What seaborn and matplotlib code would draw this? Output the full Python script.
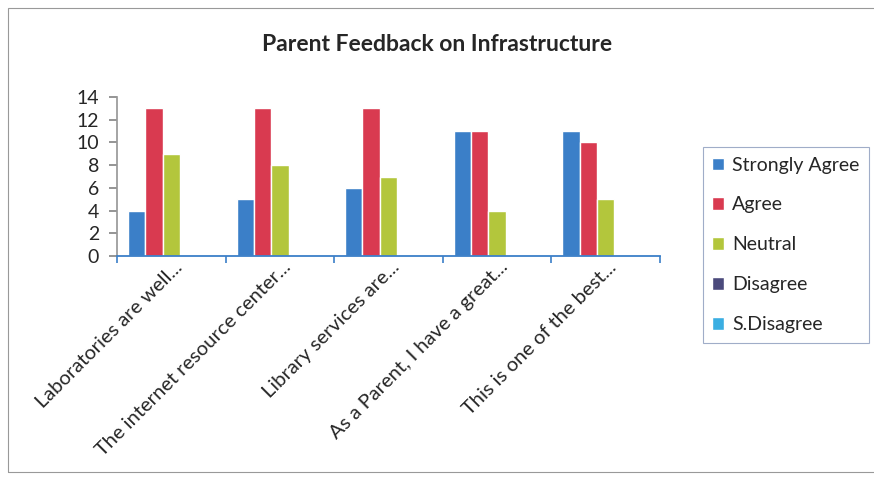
import matplotlib
matplotlib.use("Agg")
import matplotlib.pyplot as plt
import matplotlib.patches as mpatches
import matplotlib.transforms as mtransforms
import pandas as pd
import seaborn as sns

# data
statements = ["Laboratories are well...", "The internet resource center...",
              "Library services are...", "As a Parent, I have a great...",
              "This is one of the best..."]
responses = ["Strongly Agree", "Agree", "Neutral", "Disagree", "S.Disagree"]
strongly_agree = [4, 5, 6, 11, 11]
agree = [13, 13, 13, 11, 10]
neutral = [9, 8, 7, 4, 5]
disagree = [0, 0, 0, 0, 0]
s_disagree = [0, 0, 0, 0, 0]

colors = ["#3b7fc8", "#d93a50", "#b3c63c", "#4b4a7c", "#3aaee2"]

sns.set_theme(style="white")
plt.rcParams["font.family"] = ["Lato", "DejaVu Sans"]

rows = []
for resp, vals in zip(responses, [strongly_agree, agree, neutral, disagree, s_disagree]):
    for s, v in zip(statements, vals):
        rows.append({"statement": s, "response": resp, "count": v})
df = pd.DataFrame(rows)

fig = plt.figure(figsize=(8.74, 4.83), dpi=100)
ax = fig.add_axes([0.134, 0.470, 0.621, 0.329])
sns.barplot(data=df, x="statement", y="count", hue="response", order=statements,
            hue_order=responses, palette=colors, width=0.8, saturation=1,
            ax=ax, legend=False)

ax.set_xlim(-0.5, 4.5)
ax.set_ylim(0, 14)
ax.set_yticks(range(0, 15, 2))
ax.set_xlabel("")
ax.set_ylabel("")
ax.tick_params(axis="y", labelsize=14, length=6, left=True, color="#888888", pad=7)
ax.tick_params(axis="x", which="major", length=0, labelsize=14.5, pad=6)
ax.set_xticks([i - 0.5 for i in range(6)], minor=True)
ax.tick_params(axis="x", which="minor", length=5, bottom=True, color="#3b7fc8", width=1.2)
shift = mtransforms.ScaledTranslation(8 / 100, 0, fig.dpi_scale_trans)
for lbl in ax.get_xticklabels():
    lbl.set_rotation(45)
    lbl.set_ha("right")
    lbl.set_va("center")
    lbl.set_rotation_mode("anchor")
    lbl.set_transform(lbl.get_transform() + shift)
for side in ["top", "right"]:
    ax.spines[side].set_visible(False)
ax.spines["left"].set_color("#999999")
ax.spines["bottom"].set_color("#3b7fc8")
ax.spines["bottom"].set_linewidth(1.3)

fig.text(0.5, 0.907, "Parent Feedback on Infrastructure", ha="center", va="center",
         fontsize=16.5, fontweight="bold")

handles = [mpatches.Patch(facecolor=c, label=r) for c, r in zip(colors, responses)]
leg = fig.legend(handles=handles, loc="upper left", bbox_to_anchor=(0.804, 0.696),
                 fontsize=14, handlelength=0.6, handleheight=0.6, handletextpad=0.4,
                 labelspacing=1.18, frameon=True, fancybox=False, borderpad=0.5,
                 borderaxespad=0)
leg.get_frame().set_edgecolor("#8899bb")
leg.get_frame().set_linewidth(0.8)

fig.patches.append(mpatches.Rectangle((0.009, 0.023), 1.2, 0.96, transform=fig.transFigure,
                                      fill=False, edgecolor="#999999", linewidth=0.8))

fig.savefig("out.png", dpi=100)
